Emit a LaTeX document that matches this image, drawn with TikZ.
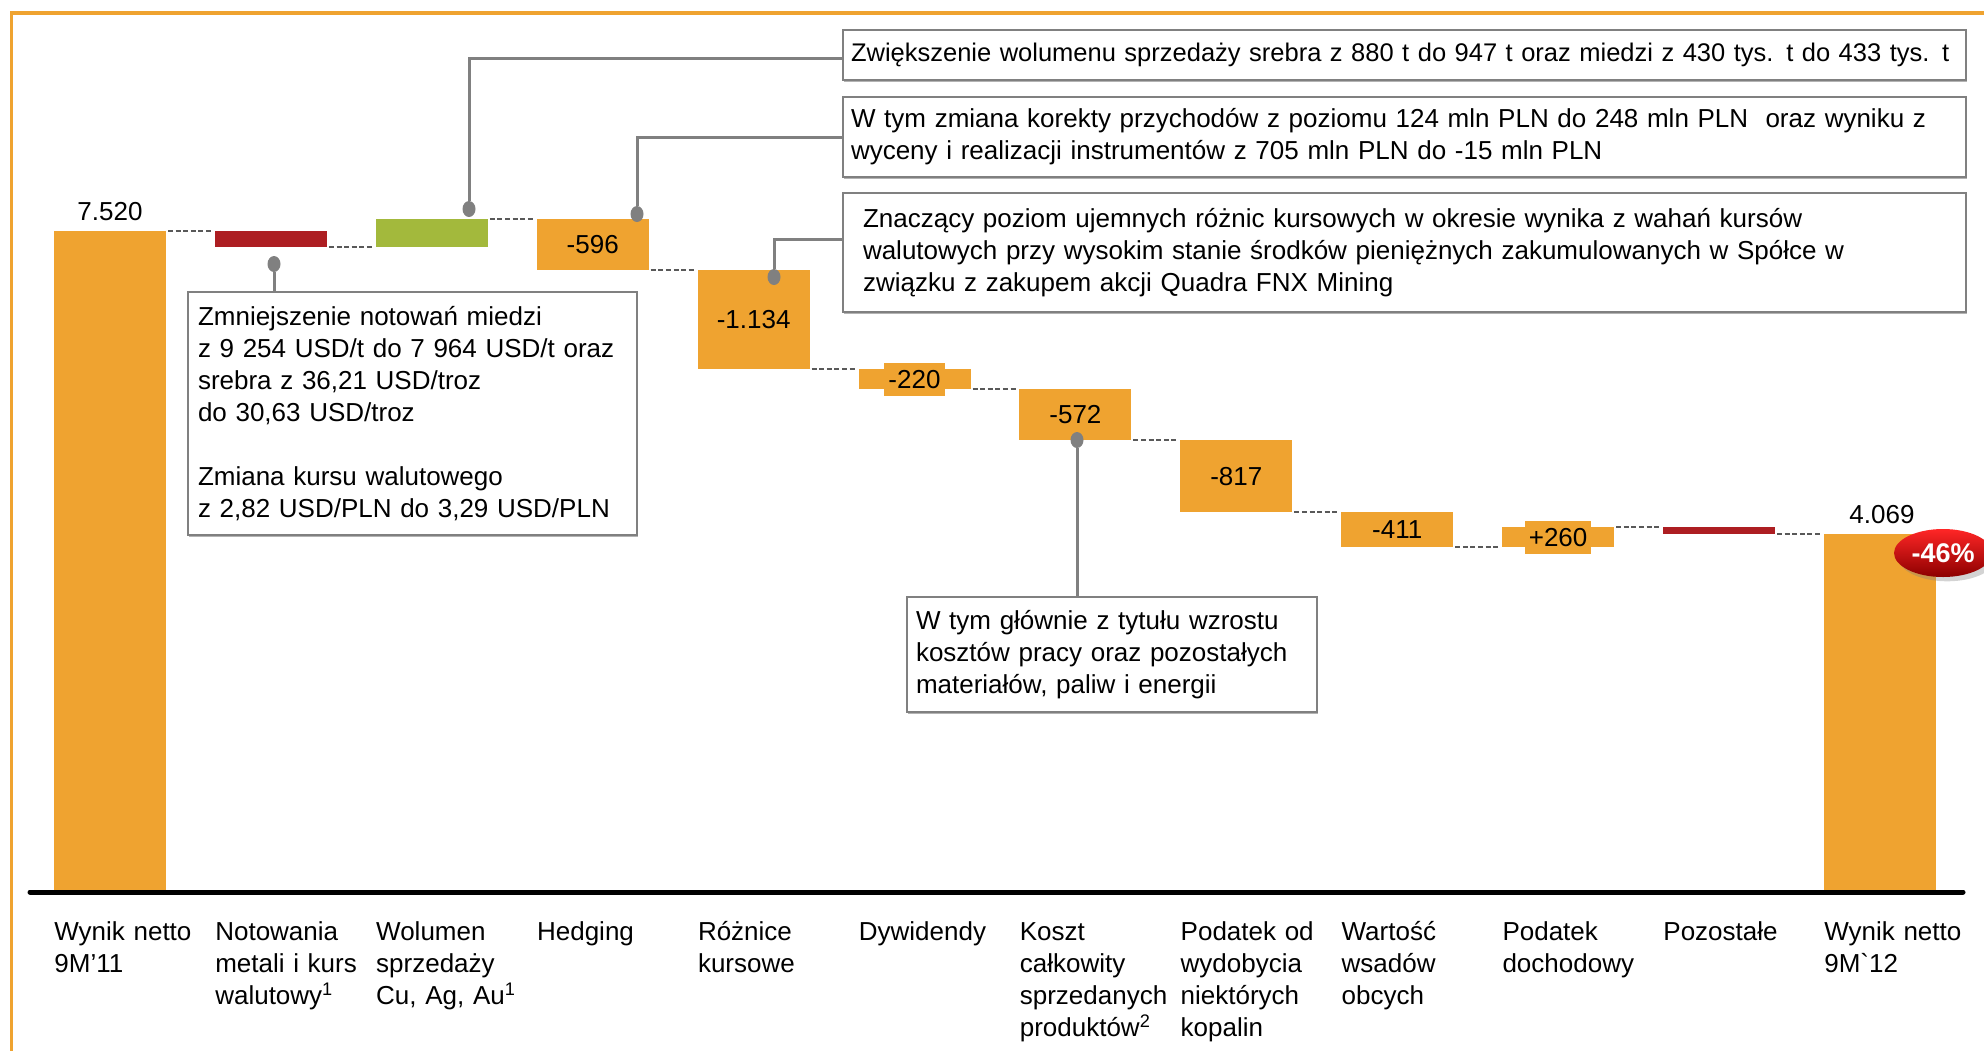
\documentclass[tikz,border=0pt]{standalone}
\usepackage{fontspec}
\newfontfamily\arialf{Liberation Sans}[Ligatures=TeXOff]
\usetikzlibrary{shapes.geometric,shadows}
\definecolor{barorange}{RGB}{239,163,48}
\definecolor{barred}{RGB}{173,30,34}
\definecolor{bargreen}{RGB}{163,185,60}
\definecolor{leadgray}{RGB}{128,128,128}
\tikzset{every node/.style={font=\arialf\fontsize{13}{16}\selectfont},
  joinline/.style={black!65,line width=0.7pt,dash pattern=on 2.5pt off 1.3pt},
  axisline/.style={black,line width=2.5pt,line cap=round},
  tot/.style={anchor=base,inner sep=0pt},
  delta/.style={fill=barorange,inner xsep=2pt,inner ysep=2pt,text height=10.9pt,text depth=1.6pt},
  catlab/.style={anchor=base west,inner sep=0pt,text width=75pt,align=left},
  callout/.style={draw=leadgray,line width=1pt,fill=white,anchor=north west,outer sep=0pt,
    inner ysep=0pt,align=left,drop shadow={shadow xshift=0.7pt,shadow yshift=-0.9pt,opacity=.6}},
  dot/.style={ellipse,fill=leadgray,minimum width=6.5pt,minimum height=8pt,inner sep=0pt},
  lead/.style={leadgray,line width=1.5pt},
  badge/.style={ellipse,minimum width=49pt,minimum height=24pt,inner sep=0pt,
    top color=red!85!white,bottom color=red!55!black,text=white,
    font=\arialf\bfseries\fontsize{13.5}{16}\selectfont,drop shadow={opacity=.35}}}

\begin{document}
\begin{tikzpicture}[x=0.5pt,y=-0.5pt]
  \useasboundingbox (0,0) rectangle (1984,1050);
  \begin{scope}
    \clip (0,0) rectangle (1984,1050);
    \draw[barorange,line width=1.6pt] (11.5,13) rectangle (2100,1200);
  \end{scope}
  % bars
  \foreach \i/\t/\b/\c in {0/231/891/barorange,1/231/247/barred,2/219/247/bargreen,3/219/270/barorange,
      4/270/369/barorange,5/369/389/barorange,6/389/440/barorange,7/440/512/barorange,
      8/512/547/barorange,9/527/547/barorange,10/527/534/barred,11/534/891/barorange}
    \fill[\c] (54+160.9*\i,\t) rectangle ++(112,\b-\t);
  \foreach \i/\l in {0/231,1/247,2/219,3/270,4/369,5/389,6/440,7/512,8/547,9/527,10/534}
    \draw[joinline] (54+160.9*\i+114,\l) -- ++(44,0);
  \draw[axisline] (30,892) -- (1963,892);

  % values
  \node[tot] (t0) at (110,220) {7.520};
  \node[tot] (t11) at (1882,523) {4.069};
  \foreach \i/\y/\v in {3/244.5/-596,4/319.5/-1.134,5/379/-220,6/414.5/-572,7/476/-817,8/529.5/-411,9/537/+260}
    \node[delta] (d\i) at (54+160.9*\i+56,\y) {\v};

  % categories
  \foreach \i/\txt in {0/{Wynik netto\\9M’11},1/{Notowania\\metali i kurs\\walutowy\textsuperscript{1}},
      2/{Wolumen\\sprzedaży\\Cu, Ag, Au\textsuperscript{1}},3/Hedging,4/{Różnice\\kursowe},5/Dywidendy,
      6/{Koszt\\całkowity\\sprzedanych\\produktów\textsuperscript{2}},7/{Podatek od\\wydobycia\\niektórych\\kopalin},
      8/{Wartość\\wsadów\\obcych},9/{Podatek\\dochodowy},10/Pozostałe,11/{Wynik netto\\9M`12}}
    \node[catlab] (c\i) at (54+160.9*\i,940) {\txt};

  % callouts
  \node[callout,inner xsep=4pt,text width=553.5pt,minimum height=25pt,font=\arialf\fontsize{12.75}{16}\selectfont] (boxA) at (843,30)
    {Zwiększenie wolumenu sprzedaży srebra z 880 t do 947 t oraz miedzi z 430 tys. t do 433 tys. t};
  \node[callout,inner xsep=4pt,text width=553.5pt,minimum height=40pt] (boxB) at (843,97)
    {W tym zmiana korekty przychodów z poziomu 124 mln PLN do 248 mln PLN\ \ oraz wyniku z\\
     wyceny i realizacji instrumentów z 705 mln PLN do -15 mln PLN};
  \node[callout,inner xsep=10pt,text width=541.5pt,minimum height=59.5pt] (boxC) at (843,193)
    {Znaczący poziom ujemnych różnic kursowych w okresie wynika z wahań kursów\\
     walutowych przy wysokim stanie środków pieniężnych zakumulowanych w Spółce w\\
     związku z zakupem akcji Quadra FNX Mining};
  \node[callout,inner xsep=5pt,text width=214.5pt,minimum height=121.5pt] (boxD) at (188,292)
    {Zmniejszenie notowań miedzi\\z 9 254 USD/t do 7 964 USD/t oraz\\srebra z 36,21 USD/troz\\
     do 30,63 USD/troz\\[16pt]Zmiana kursu walutowego\\z 2,82 USD/PLN do 3,29 USD/PLN};
  \node[callout,inner xsep=4.5pt,text width=196pt,minimum height=57.5pt] (boxE) at (907,597)
    {W tym głównie z tytułu wzrostu\\kosztów pracy oraz pozostałych\\materiałów, paliw i energii};

  \node[dot] (dA) at (469,209) {};
  \node[dot] (dB) at (637,214) {};
  \node[dot] (dC) at (774,277) {};
  \node[dot] (dD) at (274,264) {};
  \node[dot] (dE) at (1077,440) {};
  \draw[lead] (dA) |- (boxA.west |- 0,58);
  \draw[lead] (dB) |- (boxB.west);
  \draw[lead] (dC) |- (boxC.west |- 0,239);
  \draw[lead] (dD) -- (dD |- boxD.north);
  \draw[lead] (dE) -- (dE |- boxE.north);

  \node[badge] (pct) at (1943,553) {-46\%};
\end{tikzpicture}
\end{document}
